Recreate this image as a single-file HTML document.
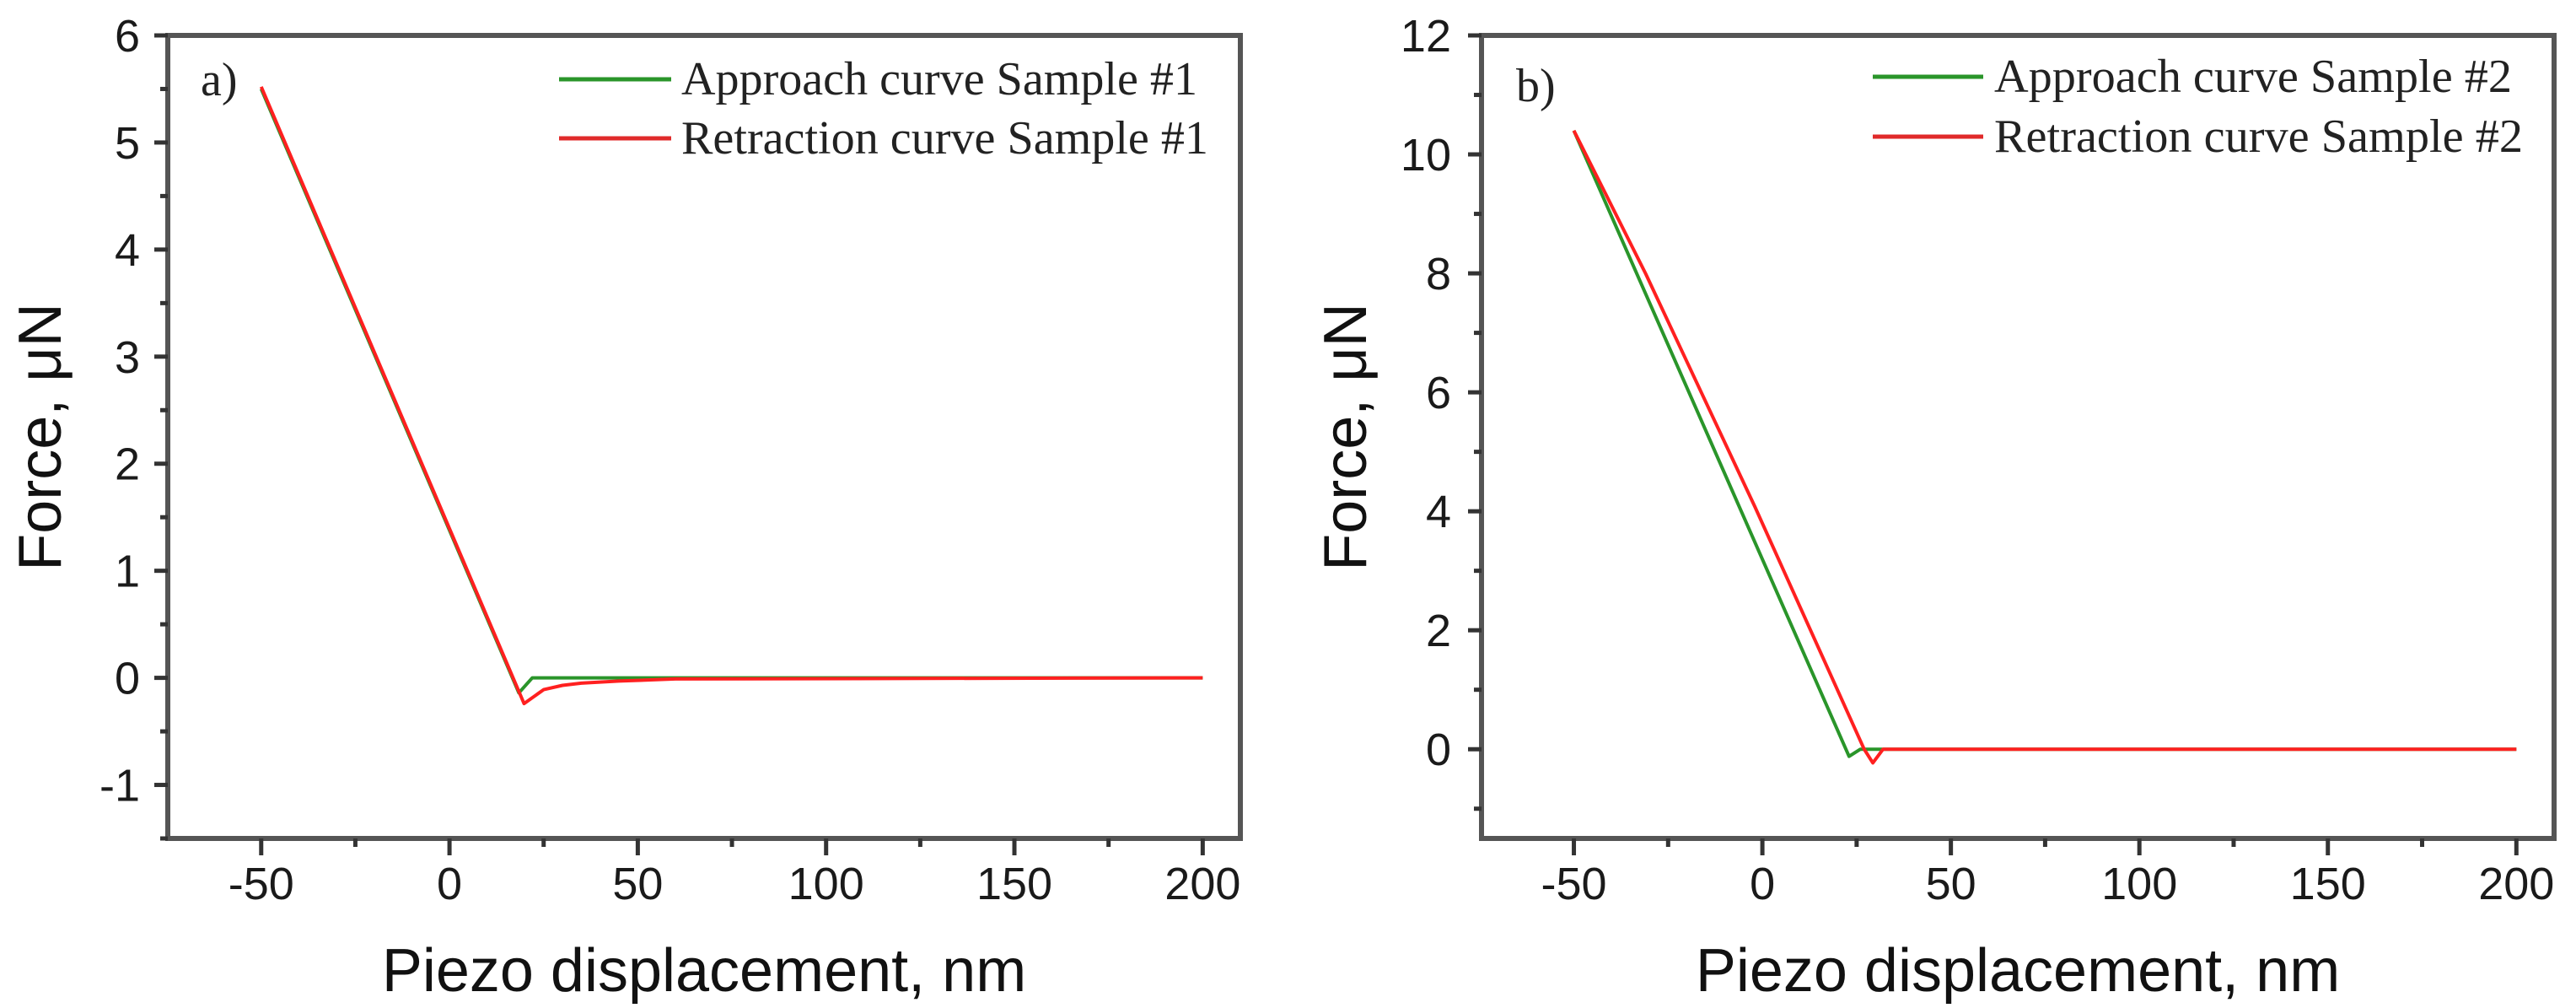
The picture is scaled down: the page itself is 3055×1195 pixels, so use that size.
<!DOCTYPE html>
<html>
<head>
<meta charset="utf-8">
<style>
  html, body { margin: 0; padding: 0; background: #fff; }
  svg { display: block; }
  .tick { font-family: "Liberation Sans", sans-serif; font-size: 54px; fill: #1a1a1a; }
  .title { font-family: "Liberation Sans", sans-serif; font-size: 72px; fill: #111; }
  .leg { font-family: "Liberation Serif", serif; font-size: 56px; fill: #222; }
</style>
</head>
<body>
<svg id="chart" width="3055" height="1195" viewBox="0 0 3055 1195" xmlns="http://www.w3.org/2000/svg">
  <rect x="0" y="0" width="3055" height="1195" fill="#fff"/>
  <g id="panelA"></g>
  <g id="panelB"></g>
</svg>
<script>
// ---- Panel a data ----
const xTicks = [-50, 0, 50, 100, 150, 200];
const yTicksA = [-1, 0, 1, 2, 3, 4, 5, 6];
const approachAx = [-50, 18.4, 22, 40, 200];
const approachAy = [5.5, -0.14, 0, 0, 0];
const retractAx = [-50, 19.8, 25, 30, 35, 45, 60, 200];
const retractAy = [5.52, -0.24, -0.11, -0.07, -0.05, -0.03, -0.01, 0];
// ---- Panel b data ----
const yTicksB = [0, 2, 4, 6, 8, 10, 12];
const approachBx = [-50, 23, 26, 200];
const approachBy = [10.4, -0.12, 0, 0];
const retractBx = [-50, -31, -2, 27, 29.3, 32, 200];
const retractBy = [10.4, 8, 4.08, 0, -0.23, 0, 0];
const legendA = ["Approach curve Sample #1", "Retraction curve Sample #1"];
const legendB = ["Approach curve Sample #2", "Retraction curve Sample #2"];

const NS = "http://www.w3.org/2000/svg";
function mk(parent, tag, attrs) {
  const e = document.createElementNS(NS, tag);
  for (const k in attrs) e.setAttribute(k, attrs[k]);
  parent.appendChild(e);
  return e;
}

function drawPanel(g, cfg) {
  const sx = v => cfg.left + (v - cfg.xmin) / (cfg.xmax - cfg.xmin) * (cfg.right - cfg.left);
  const sy = v => cfg.bottom - (v - cfg.ymin) / (cfg.ymax - cfg.ymin) * (cfg.bottom - cfg.top);

  const frame = mk(g, "rect", {x: cfg.left, y: cfg.top, width: cfg.right - cfg.left, height: cfg.bottom - cfg.top, fill: "none", stroke: "#555", "stroke-width": 6});
  
  

  for (let i = 0; i < cfg.yTicks.length; i++) {
    const v = cfg.yTicks[i];
    const t = mk(g, "line", {x1: cfg.left - 16, x2: cfg.left, y1: sy(v), y2: sy(v), stroke: "#333", "stroke-width": 5});
    
    
    const lb = mk(g, "text", {x: cfg.ylabX, y: sy(v) + 19, "text-anchor": "end", class: "tick"});
    lb.textContent = String(v);
    
    
  }
  const step = cfg.yTicks[1] - cfg.yTicks[0];
  for (let v = cfg.yTicks[0] - step / 2; v < cfg.ymax; v += step) {
    if (v < cfg.ymin) continue;
    const t = mk(g, "line", {x1: cfg.left - 9, x2: cfg.left, y1: sy(v), y2: sy(v), stroke: "#333", "stroke-width": 5});
    
    
  }
  for (let i = 0; i < xTicks.length; i++) {
    const v = xTicks[i];
    const t = mk(g, "line", {x1: sx(v), x2: sx(v), y1: cfg.bottom, y2: cfg.bottom + 20, stroke: "#333", "stroke-width": 5});
    
    
    const lb = mk(g, "text", {x: sx(v), y: cfg.bottom + 72, "text-anchor": "middle", class: "tick"});
    lb.textContent = String(v);
    
    
  }
  for (let v = xTicks[0] - 25; v <= cfg.xmax; v += 50) {
    if (v < cfg.xmin) continue;
    const m = mk(g, "line", {x1: sx(v), x2: sx(v), y1: cfg.bottom, y2: cfg.bottom + 10, stroke: "#333", "stroke-width": 5});
    
    
  }

  const xt = mk(g, "text", {x: (cfg.left + cfg.right) / 2, y: 1175, "text-anchor": "middle", class: "title"});
  xt.textContent = "Piezo displacement, nm";
  
  
  const cy = (cfg.top + cfg.bottom) / 2;
  const yt = mk(g, "text", {x: cfg.ytitleX, y: cy, "text-anchor": "middle", class: "title", transform: "rotate(-90 " + cfg.ytitleX + " " + cy + ")"});
  yt.textContent = "Force, \u03bcN";
  
  

  const pl = mk(g, "text", {x: cfg.letterX, y: cfg.letterY, class: "leg"});
  pl.textContent = cfg.letter;
  
  

  function series(xs, ys, color, name) {
    const pts = xs.map((x, i) => sx(x).toFixed(1) + "," + sy(ys[i]).toFixed(1)).join(" ");
    const p = mk(g, "polyline", {points: pts, fill: "none", stroke: color, "stroke-width": 4, "stroke-linejoin": "round"});
    
    
  }
  series(cfg.ax, cfg.ay, "#2a952a", "approach-curve");
  series(cfg.rx, cfg.ry, "#ff2020", "retraction-curve");

  const colors = ["#2a952a", "#e02a2a"];
  for (let i = 0; i < 2; i++) {
    const ly = cfg.legY[i];
    const l = mk(g, "line", {x1: cfg.legX1, x2: cfg.legX2, y1: ly, y2: ly, stroke: colors[i], "stroke-width": 5});
    
    
    const t = mk(g, "text", {x: cfg.legTX, y: ly + 18, class: "leg", textLength: cfg.legW[i], lengthAdjust: "spacingAndGlyphs"});
    t.textContent = cfg.legend[i];
    
    
  }
}

drawPanel(document.getElementById("panelA"), {
  left: 199, right: 1471, top: 42, bottom: 994,
  xmin: -74.8, xmax: 210, ymin: -1.5, ymax: 6,
  yTicks: yTicksA, ylabX: 166, ytitleX: 72,
  ax: approachAx, ay: approachAy, rx: retractAx, ry: retractAy,
  letter: "a)", letterX: 238, letterY: 113,
  legX1: 663, legX2: 796, legTX: 808, legY: [94, 164], legW: [612, 625], legend: legendA
});
drawPanel(document.getElementById("panelB"), {
  left: 1757, right: 3029, top: 42, bottom: 994,
  xmin: -74.5, xmax: 210, ymin: -1.5, ymax: 12,
  yTicks: yTicksB, ylabX: 1721, ytitleX: 1620,
  ax: approachBx, ay: approachBy, rx: retractBx, ry: retractBy,
  letter: "b)", letterX: 1798, letterY: 120,
  legX1: 2221, legX2: 2352, legTX: 2365, legY: [91, 162], legW: [614, 627], legend: legendB
});
</script>
</body>
</html>
